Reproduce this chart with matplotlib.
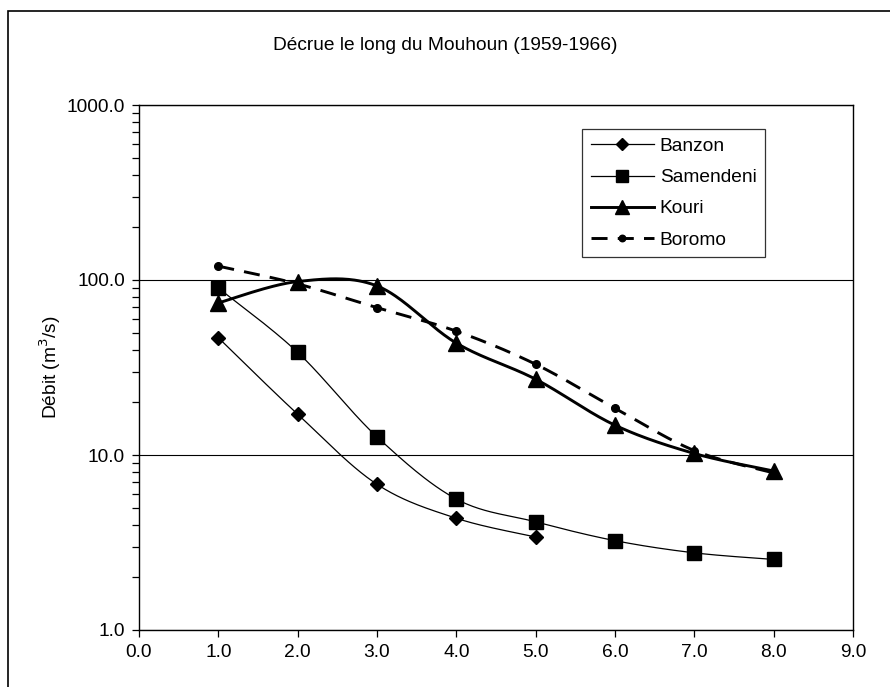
"""Décrue le long du Mouhoun (1959-1966) - semi-log recession curves."""

import matplotlib
matplotlib.use("Agg")
import matplotlib.pyplot as plt
import numpy as np
from matplotlib.lines import Line2D
from matplotlib.patches import Rectangle
from matplotlib.ticker import FixedLocator, FormatStrFormatter, LogLocator, NullFormatter

plt.rcParams["font.family"] = ["Liberation Sans", "DejaVu Sans"]

# data (x = step, y = discharge m3/s)
banzon_x = [1, 2, 3, 4, 5]
banzon_y = [46.8, 17.1, 6.8, 4.35, 3.4]
samendeni_x = [1, 2, 3, 4, 5, 6, 7, 8]
samendeni_y = [90.0, 38.6, 12.7, 5.6, 4.15, 3.24, 2.76, 2.53]
kouri_x = [1, 2, 3, 4, 5, 6, 7, 8]
kouri_y = [74.0, 98.0, 92.5, 43.6, 27.1, 14.8, 10.2, 8.1]
boromo_x = [1, 2, 3, 4, 5, 6, 7, 8]
boromo_y = [120.0, 95.0, 69.5, 51.0, 33.0, 18.5, 10.6, 7.9]

x_ticks = [0, 1, 2, 3, 4, 5, 6, 7, 8, 9]
y_ticks = [1, 10, 100, 1000]


def _smooth(xs, ys, n=40):
    """Excel-like smoothed line: Catmull-Rom Bezier in (x, log10 y) space."""
    px = np.asarray(xs, dtype=float)
    py = np.log10(np.asarray(ys, dtype=float))
    px = np.concatenate([[px[0]], px, [px[-1]]])
    py = np.concatenate([[py[0]], py, [py[-1]]])
    out_x, out_y = [], []
    t = np.linspace(0, 1, n)
    for i in range(1, len(px) - 2):
        p0 = np.array([px[i], py[i]])
        p3 = np.array([px[i + 1], py[i + 1]])
        c1 = p0 + (p3 - np.array([px[i - 1], py[i - 1]])) / 6
        c2 = p3 - (np.array([px[i + 2], py[i + 2]]) - p0) / 6
        b = ((1 - t) ** 3)[:, None] * p0 + (3 * (1 - t) ** 2 * t)[:, None] * c1 \
            + (3 * (1 - t) * t ** 2)[:, None] * c2 + (t ** 3)[:, None] * p3
        out_x.extend(b[:, 0])
        out_y.extend(b[:, 1])
    return np.array(out_x), 10 ** np.array(out_y)


fig = plt.figure(figsize=(8.9, 6.87), dpi=100)
ax = fig.add_axes([139 / 890, 1 - 630 / 687, (853 - 139) / 890, (630 - 105) / 687])

series = [
    ("Banzon", banzon_x, banzon_y, dict(lw=0.9, ls="-"), dict(marker="D", ms=7.3)),
    ("Samendeni", samendeni_x, samendeni_y, dict(lw=0.9, ls="-"), dict(marker="s", ms=10.5)),
    ("Kouri", kouri_x, kouri_y, dict(lw=2.1, ls="-"), dict(marker="^", ms=11.5)),
    ("Boromo", boromo_x, boromo_y, dict(lw=2.1, ls=(0, (5.5, 3.5))), dict(marker="o", ms=5.5)),
]

handles = []
for name, xs, ys, line_kw, mark_kw in series:
    sx, sy = _smooth(xs, ys)
    ax.plot(sx, sy, color="black", zorder=3, **line_kw)
    ax.plot(xs, ys, linestyle="none", color="black", zorder=4, **mark_kw)
    handles.append(Line2D([], [], color="black", label=name, **line_kw,
                          marker=mark_kw["marker"], markersize=mark_kw["ms"] * 0.85))

ax.set_yscale("log")
ax.set_xlim(0, 9)
ax.set_ylim(1, 1000)
ax.xaxis.set_major_locator(FixedLocator(x_ticks))
ax.xaxis.set_major_formatter(FormatStrFormatter("%.1f"))
ax.yaxis.set_major_locator(FixedLocator(y_ticks))
ax.yaxis.set_major_formatter(FormatStrFormatter("%.1f"))
ax.yaxis.set_minor_locator(LogLocator(base=10, subs=np.arange(2, 10)))
ax.yaxis.set_minor_formatter(NullFormatter())
ax.tick_params(axis="both", which="major", direction="out", length=5, width=0.9,
               labelsize=13.8, pad=5, color="black")
ax.tick_params(axis="y", which="minor", direction="out", length=5, width=0.9)
for s in ax.spines.values():
    s.set_linewidth(1.0)
    s.set_color("black")
ax.grid(axis="y", which="major", color="black", linewidth=0.8)

ax.set_ylabel("Débit (m$^3$/s)", fontsize=13.8, labelpad=3)
fig.text(0.5, 1 - 45 / 687, "Décrue le long du Mouhoun (1959-1966)", ha="center",
         va="center", fontsize=13.8)

leg = fig.legend(handles=handles, loc="upper left",
                 bbox_to_anchor=(582 / 890, 1 - 129 / 687), borderaxespad=0,
                 fontsize=13.8, frameon=True, fancybox=False, handlelength=3.3,
                 handletextpad=0.3, labelspacing=0.72, borderpad=0.45)
leg.get_frame().set_edgecolor("black")
leg.get_frame().set_linewidth(0.9)

# outer chart frame (only top and left edges inside the image)
fig.patches.append(Rectangle((8 / 890, -0.05), 1.1, 1 - 11 / 687 + 0.05,
                             transform=fig.transFigure, fill=False,
                             edgecolor="black", linewidth=1.2))

fig.savefig("out.png", dpi=100)
